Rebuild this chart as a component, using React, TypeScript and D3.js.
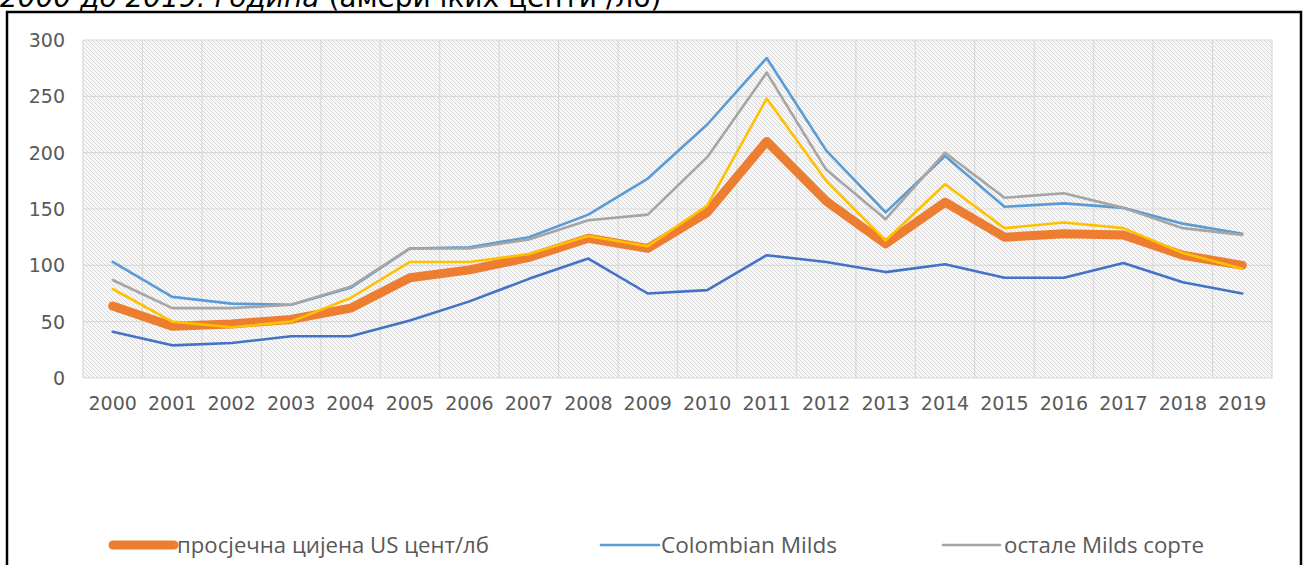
import React from "react";
import * as d3 from "d3";

const years = ["2000","2001","2002","2003","2004","2005","2006","2007","2008","2009","2010","2011","2012","2013","2014","2015","2016","2017","2018","2019"];
const yTicks = [0, 50, 100, 150, 200, 250, 300];

const avgPrice = [64, 46, 48, 52, 62, 89, 96, 107, 124, 115, 147, 210, 157, 119, 156, 125, 128, 127, 109, 100];
const colombianMilds = [103, 72, 66, 65, 80, 115, 116, 125, 145, 177, 225, 284, 202, 147, 197, 152, 155, 151, 137, 128];
const otherMilds = [87, 62, 62, 65, 81, 115, 115, 123, 140, 145, 196, 271, 185, 141, 200, 160, 164, 151, 133, 127];
const brazilianNaturals = [79, 50, 45, 50, 71, 103, 103, 110, 126, 117, 153, 248, 175, 122, 172, 133, 138, 133, 111, 97];
const robustas = [41, 29, 31, 37, 37, 51, 68, 88, 106, 75, 78, 109, 103, 94, 101, 89, 89, 102, 85, 75];

const series = [
  { name: "просјечна цијена US цент/лб", values: avgPrice, color: "#ED7D31", width: 9 },
  { name: "Colombian Milds", values: colombianMilds, color: "#5B9BD5", width: 2.6 },
  { name: "остале Milds сорте", values: otherMilds, color: "#A5A5A5", width: 2.6 },
  { name: "Brazilian Naturals", values: brazilianNaturals, color: "#FFC000", width: 2.6 },
  { name: "Robustas", values: robustas, color: "#4472C4", width: 2.6 },
];

export default function App() {
  const W = 1304, H = 565;
  const left = 83, right = 1272, top = 40, bottom = 378;
  const x = d3.scaleBand<string>().domain(years).range([left, right]);
  const y = d3.scaleLinear().domain([0, 300]).range([bottom, top]);
  const line = (vals: number[]) =>
    d3.line<number>().x((_, i) => (x(years[i]) as number) + x.bandwidth() / 2).y((v) => y(v))(vals) as string;

  const labelFont = "'DejaVu Sans', Verdana, sans-serif";
  const legendFont = "'Open Sans', 'Noto Sans', sans-serif";
  const legendItems = [
    { s: series[0], x1: 113, x2: 174, tx: 177, len: 312 },
    { s: series[1], x1: 601, x2: 659, tx: 661, len: 176 },
    { s: series[2], x1: 943, x2: 1000, tx: 1004, len: 200 },
  ];

  return (
    <svg width={W} height={H} style={{ position: "absolute", left: 0, top: 0, background: "#fff" }}>
      <defs>
        <pattern id="hatch" width="4" height="4" patternUnits="userSpaceOnUse">
          <rect width="4" height="4" fill="#f8f8f8" />
          <path d="M-1,-1 l2,2 M0,0 l4,4 M3,3 l2,2" stroke="#d8d8d8" strokeWidth="1" />
        </pattern>
      </defs>
      <text x={0} y={7} fontFamily={labelFont} fontSize={28} fill="#000">
        <tspan fontStyle="italic">2000 до 2019. година</tspan>
        <tspan> (америчких центи /лб)</tspan>
      </text>
      <rect x={7} y={12} width={1294} height={560} fill="#fff" stroke="#000" strokeWidth={2.5} />
      <rect x={left} y={top} width={right - left} height={bottom - top} fill="url(#hatch)" />
      {yTicks.map((t) => (
        <line key={"h" + t} x1={left} x2={right} y1={y(t)} y2={y(t)} stroke="#d9d9d9" strokeWidth={1.2} />
      ))}
      {years.map((yr) => (
        <line key={"v" + yr} x1={x(yr) as number} x2={x(yr) as number} y1={top} y2={bottom} stroke="#d9d9d9" strokeWidth={1.2} />
      ))}
      <line x1={right} x2={right} y1={top} y2={bottom} stroke="#d9d9d9" strokeWidth={1.2} />
      {yTicks.map((t) => (
        <text key={"yt" + t} x={65} y={y(t) + 7} textAnchor="end" fontFamily={labelFont} fontSize={19} fill="#595959">
          {t}
        </text>
      ))}
      {years.map((yr) => (
        <text key={"xt" + yr} x={(x(yr) as number) + x.bandwidth() / 2} y={410} textAnchor="middle" fontFamily={labelFont} fontSize={19} fill="#595959">
          {yr}
        </text>
      ))}
      {series.map((s) => (
        <path key={s.name} d={line(s.values)} fill="none" stroke={s.color} strokeWidth={s.width} strokeLinejoin="round" strokeLinecap="round" />
      ))}
      {legendItems.map(({ s, x1, x2, tx, len }) => (
        <g key={"lg" + s.name}>
          <line x1={x1} x2={x2} y1={545} y2={545} stroke={s.color} strokeWidth={s.width} strokeLinecap="round" />
          <text x={tx} y={553} fontFamily={legendFont} fontSize={21} fill="#595959" textLength={len} lengthAdjust="spacingAndGlyphs">{s.name}</text>
        </g>
      ))}
    </svg>
  );
}
